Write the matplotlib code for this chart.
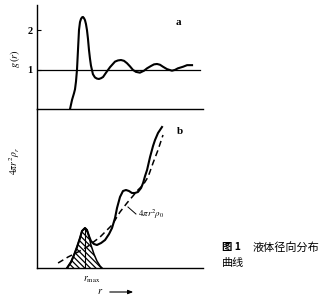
import matplotlib

matplotlib.use("Agg")

import matplotlib.pyplot as plt

# panel a: pair distribution function g(r)
r_g = [1.99, 2.11, 2.23, 2.29, 2.35, 2.41, 2.47, 2.53, 2.59, 2.65, 2.71, 2.77, 2.83, 2.89,
       2.95, 3.01, 3.07, 3.13, 3.19, 3.25, 3.37, 3.49, 3.61, 3.73, 3.86, 3.98, 4.16, 4.40,
       4.70, 4.88, 5.06, 5.24, 5.42, 5.60, 5.78, 5.96, 6.20, 6.45, 6.63, 6.87, 7.05, 7.23,
       7.41, 7.59, 7.83, 8.13, 8.31, 8.49, 8.80, 9.04, 9.34]
g_r = [0.0, 0.23, 0.40, 0.50, 0.70, 1.00, 1.50, 2.00, 2.20, 2.28, 2.32, 2.33, 2.30, 2.25,
       2.15, 2.00, 1.78, 1.50, 1.28, 1.10, 0.88, 0.80, 0.77, 0.76, 0.78, 0.81, 0.92, 1.06,
       1.20, 1.23, 1.24, 1.22, 1.16, 1.08, 0.99, 0.94, 0.92, 0.97, 1.03, 1.09, 1.13, 1.14,
       1.12, 1.07, 1.01, 0.97, 0.99, 1.03, 1.07, 1.11, 1.11]

# panel b: radial distribution 4 pi r^2 rho(r)
r_rdf = [1.81, 2.05, 2.23, 2.41, 2.59, 2.71, 2.89, 3.01, 3.13, 3.25, 3.43, 3.61, 3.86,
         4.10, 4.34, 4.52, 4.70, 4.82, 5.00, 5.18, 5.36, 5.54, 5.72, 5.90, 6.08, 6.27,
         6.39, 6.51, 6.63, 6.81, 6.99, 7.11, 7.29, 7.53]
rdf = [0.0, 0.6, 1.3, 2.1, 3.0, 3.7, 4.0, 3.8, 3.2, 2.7, 2.4, 2.3, 2.5,
       2.8, 3.4, 4.0, 5.0, 6.0, 7.1, 7.7, 7.8, 7.7, 7.5, 7.5, 7.6, 8.0,
       8.5, 9.2, 9.8, 11.1, 12.2, 12.8, 13.5, 14.1]

# first coordination peak (hatched)
r_peak = [1.81, 2.05, 2.23, 2.41, 2.59, 2.71, 2.89, 3.01, 3.13, 3.25, 3.43, 3.61, 3.80, 3.92]
peak = [0.0, 0.6, 1.3, 2.1, 3.0, 3.7, 4.0, 3.8, 3.2, 2.3, 1.4, 0.7, 0.2, 0.0]
r_max = 2.89

# uniform density 4 pi r^2 rho0
r_avg = [1.27, 1.87, 2.47, 3.01, 3.80, 4.52, 5.00, 5.42, 5.78, 6.08, 6.39, 6.69, 6.99,
         7.29, 7.59]
avg = [0.5, 1.1, 1.6, 2.1, 3.1, 4.3, 5.6, 6.5, 7.2, 7.8, 8.3, 9.1, 10.5, 11.8, 13.3]

plt.rcParams["font.family"] = ["Liberation Serif", "DejaVu Serif"]
plt.rcParams["mathtext.fontset"] = "stix"
plt.rcParams["hatch.linewidth"] = 0.9

W, H = 333, 300
fig = plt.figure(figsize=(W / 100, H / 100), dpi=100)


def fx(px):
    return px / W


def fy(py):
    return 1 - py / H


ax_a = fig.add_axes([fx(37), fy(109), fx(203) - fx(37), fy(5) - fy(109)])
ax_b = fig.add_axes([fx(37), fy(268), fx(203) - fx(37), fy(109) - fy(268)])

for ax in (ax_a, ax_b):
    ax.set_xlim(0, 10)
    ax.spines["top"].set_visible(False)
    ax.spines["right"].set_visible(False)
    ax.spines["left"].set_linewidth(1.0)
    ax.spines["bottom"].set_linewidth(1.0)
    ax.set_xticks([])
    ax.patch.set_alpha(0)

ax_a.set_ylim(0, 104 / 39.5)
ax_a.set_yticks([1, 2])
ax_a.set_yticklabels(["1", "2"], fontsize=7.5, fontweight="bold")
ax_a.tick_params(axis="y", direction="in", length=3, width=0.8, pad=3)
ax_a.axhline(1, xmin=0, xmax=0.98, color="black", lw=0.9)
ax_a.plot(r_g, g_r, color="black", lw=1.5, solid_joinstyle="round")
ax_a.text(8.5, 2.2, "a", fontsize=8, fontweight="bold", ha="center", va="center")

ax_b.set_ylim(0, 15.9)
ax_b.set_yticks([])
ax_b.fill_between(r_peak, 0, peak, facecolor="white", edgecolor="black",
                  hatch="\\\\\\\\\\\\", linewidth=0)
ax_b.plot(r_peak, peak, color="black", lw=1.1)
ax_b.plot([r_max, r_max], [0, 4.0], color="black", lw=0.8)
ax_b.plot(r_avg, avg, color="black", lw=1.1, dashes=(4, 2.5))
ax_b.plot(r_rdf, rdf, color="black", lw=1.5, solid_joinstyle="round")
ax_b.text(8.6, 13.6, "b", fontsize=8, fontweight="bold", ha="center", va="center")
ax_b.plot([5.48, 5.96], [6.1, 5.4], color="black", lw=0.7)
ax_b.text(6.08, 5.4, r"$4\pi r^2\rho_0$", fontsize=6.5, ha="left", va="center")
ax_b.text(3.3, -1.2, r"$r_{\rm max}$", fontsize=7, ha="center", va="center", clip_on=False)

fig.text(fx(15), fy(59), r"$g\,(r)$", fontsize=7.5, rotation=90, ha="center", va="center")
fig.text(fx(15), fy(161), r"$4\pi r^2\rho_r$", fontsize=7, rotation=90, ha="center", va="center")
fig.text(fx(100), fy(292), r"$r$", fontsize=7.5, ha="center", va="center")
fig.patches.append(matplotlib.patches.FancyArrowPatch(
    (fx(107), fy(292)), (fx(136), fy(292)), transform=fig.transFigure,
    arrowstyle="-|>,head_length=3,head_width=1.2", color="black", lw=0.8))

cjk = ["Noto Sans CJK SC", "DejaVu Sans"]
fig.text(fx(222), fy(247), "图 1", fontsize=7.5, family=cjk, fontweight="bold",
         ha="left", va="center")
fig.text(fx(253), fy(247), "液体径向分布", fontsize=8, family=cjk,
         ha="left", va="center")
fig.text(fx(222), fy(263), "曲线", fontsize=8, family=cjk, ha="left", va="center")

fig.savefig("out.png", dpi=100)
